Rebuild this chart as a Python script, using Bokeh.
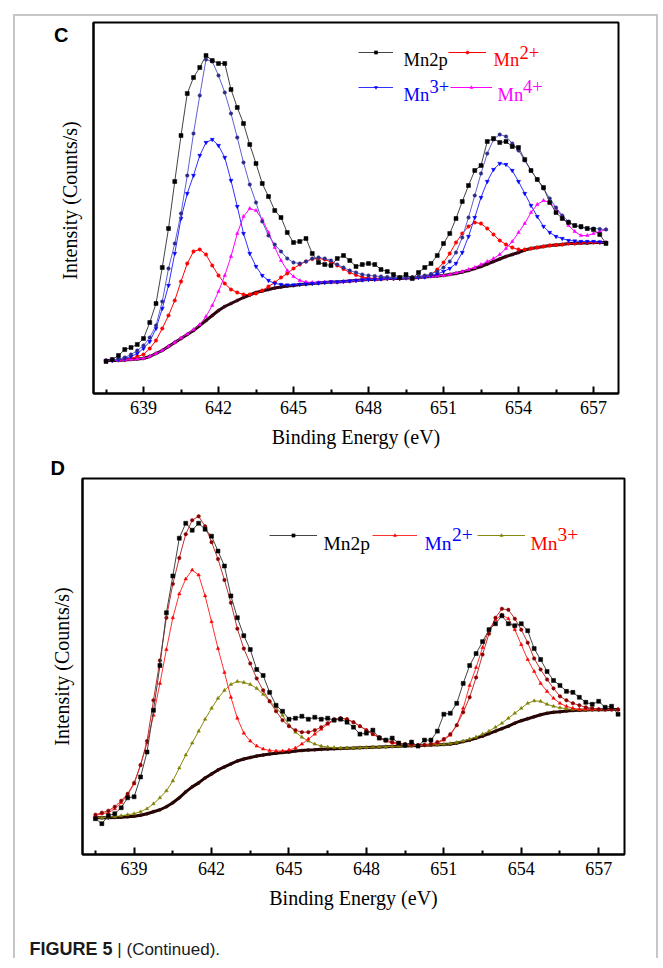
import numpy as np
from bokeh.plotting import figure
from bokeh.models import Label, Legend, LegendItem, FixedTicker, Range1d, Div, Title
from bokeh.layouts import column, row
from bokeh.embed import file_html
from bokeh.resources import INLINE

# ---------------- data ----------------
energy_c = np.round(np.arange(637.5, 657.5001, 0.25), 2)   # panel C grid (eV)
energy_d = np.round(np.arange(637.5, 657.7501, 0.25), 2)   # panel D grid (eV)

x_ticks = [639, 642, 645, 648, 651, 654, 657]
x_minor = [637.5, 640.5, 643.5, 646.5, 649.5, 652.5, 655.5]

# Panel C
c_mn2p = [32, 34, 38, 44, 46, 49, 55, 71, 90, 126,
          165, 212, 258, 300, 316, 326, 338, 333, 330, 330,
          304, 286, 270, 249, 230, 210, 197, 183, 176, 161,
          151, 152, 155, 140, 131, 129, 128, 135, 138, 133,
          127, 129, 130, 129, 124, 122, 119, 116, 119, 115,
          121, 126, 130, 138, 150, 160, 175, 192, 208, 223,
          228, 252, 255, 251, 252, 247, 246, 234, 223, 214,
          206, 191, 181, 175, 171, 168, 167, 165, 164, 159, 150]
c_env = [33, 33.5, 34.5, 36, 39, 43, 48, 56, 68, 92,
         125, 150, 180, 218, 260, 298, 334, 332, 318, 301,
         280, 256, 231, 209, 191, 172, 158, 149, 142, 135,
         131, 130, 132, 135, 136, 135, 133, 129, 126, 123,
         121, 119, 118, 117.5, 117, 116.5, 116, 116, 116, 116.5,
         117, 118, 119.5, 122, 126, 132, 141, 156, 176, 198,
         220, 240, 254, 259, 257, 250, 243, 233, 223, 214,
         205, 195, 186, 178, 172, 168, 166, 165, 165, 164.5, 164]
c_mn3 = [33, 33, 34, 35, 37, 40, 45, 52, 65, 85,
         108, 140, 175, 200, 218, 238, 251, 254, 248, 236,
         213, 187, 160, 140, 127, 118, 113, 110, 109, 108.5,
         108.5, 109, 109.5, 110, 110.5, 111, 111.5, 111.5, 112, 112.5,
         113, 113.5, 114, 114, 114.5, 115, 115, 115, 115.5, 115.5,
         116, 116.5, 118, 119.5, 122, 125, 130, 141, 157, 176,
         196, 212, 224, 230, 229, 223, 212, 200, 188, 177,
         167, 161, 157, 155, 153, 152.5, 152, 152, 152, 151.5, 151]
c_mn2 = [33, 33, 33.5, 34, 35, 37, 39, 45, 53, 65,
         78, 93, 112, 130, 142, 144, 139, 128, 118, 110,
         104, 101, 99, 99, 100, 103, 107, 111, 116, 120,
         125, 129, 132, 134.5, 135, 134, 131.5, 128, 124.5, 121,
         118.5, 116.5, 115.5, 115, 115, 115, 115, 115.5, 115.5, 116,
         116.5, 117.5, 119, 124, 131, 140, 151, 160, 167, 171,
         170, 165, 159, 153, 149, 146, 144, 144, 145, 146,
         147, 148, 148.5, 149, 150, 150, 150.5, 151, 151, 151, 151]
c_mn4 = [33, 33, 33, 33.5, 34, 34.5, 35, 37, 40, 43,
         47, 51, 55.5, 59.5, 64, 69, 77, 88, 102, 118,
         137, 160, 177, 185, 183, 174, 161, 146, 133, 123,
         117, 113, 111.5, 111, 111, 111.5, 111.5, 111.5, 112, 112.5,
         113, 113.5, 114, 114, 114.5, 115, 115, 115, 115.5, 115.5,
         116, 116.5, 117, 117.5, 118, 119, 120.5, 122, 124, 126,
         129, 132, 135, 139, 145, 152, 161, 170, 181, 189,
         193, 191, 185, 177, 168, 162, 158, 158, 160, 162, 164]
c_bkg = [33, 33, 33, 33.5, 34, 34.5, 35, 37, 40, 43,
         47, 51, 55, 59, 63, 68, 73, 78, 83, 87,
         90, 93, 96, 98.5, 101, 102.5, 104, 105.5, 106.5, 107.5,
         108, 109, 109.5, 110, 110.5, 111, 111.5, 111.5, 112, 112.5,
         113, 113.5, 114, 114, 114.5, 115, 115, 115, 115.5, 115.5,
         116, 116.5, 117, 117.5, 118, 119, 120, 121.5, 123, 125,
         127, 129.5, 132, 134.5, 137, 139, 141, 143.5, 145, 146,
         147, 148, 148.5, 149, 150, 150, 150.5, 150.5, 151, 151, 151]

# Panel D
d_mn2p = [36, 31, 39, 41, 47, 57, 58, 78, 103, 145,
          190, 243, 280, 318, 333, 326, 333, 327, 320, 305,
          290, 260, 238, 220, 206, 186, 180, 163, 150, 144,
          136, 137, 139, 136, 138, 136, 137, 135, 136, 133,
          128, 121, 122, 125, 117, 115, 117, 112, 110, 113,
          109, 115, 115, 124, 141, 142, 152, 172, 190, 202,
          214, 226, 232, 240, 232, 230, 232, 225, 207, 196,
          184, 175, 170, 164, 163, 158, 153, 151, 154, 148, 149, 141]
d_env = [40, 42, 44, 48, 54, 61, 72, 90, 114, 155,
         195, 238, 272, 298, 322, 336, 340, 330, 314, 297,
         276, 253, 227, 207, 192, 177, 165, 154, 144, 135,
         129, 125, 123, 123, 125, 128, 132, 136, 137, 136,
         133, 129, 125, 121, 118, 115, 113, 112, 111, 110.5,
         110, 110, 111, 113, 116, 121, 130, 143, 158, 178,
         201, 222, 238, 247, 246, 237, 226, 213, 197, 186,
         176, 167, 159, 155, 152, 150, 148, 147, 146, 146, 145.7, 145.7]
d_mn2 = [39, 41, 42, 46, 52, 60, 71, 90, 112, 140,
         172, 206, 238, 262, 277, 286, 281, 260, 234, 207,
         183, 158, 137, 122, 114, 109, 106, 104.5, 104, 104,
         105, 107, 111, 116, 121, 126, 131, 135, 137, 136,
         133, 129, 125, 121, 117, 114, 112, 111, 110.5, 110,
         110, 110, 111, 112, 115, 120, 130, 147, 170, 188,
         208, 226, 236, 241, 237, 226, 211, 196, 184, 172,
         164, 157, 152, 149, 147, 146, 146, 145.7, 145.7, 145.7, 145.7, 145.7]
d_mn3 = [37, 37, 37.5, 38, 39, 40, 41, 43, 46, 51,
         57, 64, 74, 87, 100, 112, 124, 136, 147, 157,
         165, 171, 174, 173, 171, 167, 161, 154, 148, 140,
         130, 123, 118, 114, 111, 109, 108, 107.5, 107, 107,
         107.2, 107.4, 107.6, 107.9, 108.1, 108.4, 108.6, 108.9, 109.1, 109.4,
         109.6, 109.9, 110.1, 110.4, 110.8, 111.5, 112.5, 114, 116, 118,
         121, 124, 128, 132, 137, 142, 147, 152, 154.5, 154,
         151, 149, 147.5, 146.5, 146, 145.5, 145.5, 145.5, 145.5, 145.6, 145.7, 145.7]
d_bkg = [37, 37, 37, 37.2, 37.5, 38, 38.5, 39.5, 41, 43,
         45, 48, 52, 57, 63, 68, 72, 77, 81, 85,
         88, 91, 94, 96, 97.5, 99, 100, 101, 101.8, 102.5,
         103, 104, 104.5, 105, 105.3, 105.7, 106, 106.3, 106.5, 106.8,
         107, 107.3, 107.5, 107.8, 108, 108.3, 108.5, 108.8, 109, 109.3,
         109.5, 109.8, 110, 110.3, 110.5, 111, 112, 113.5, 115, 117,
         119, 121.5, 124, 126.5, 129, 132, 134.5, 136.5, 138.5, 140.5,
         142, 143, 143.5, 144.2, 144.7, 145, 145.2, 145.4, 145.5, 145.6, 145.7, 145.7]

SERIF = "'Liberation Serif', 'Times New Roman', Times, serif"
SANS = "'Liberation Sans', Arial, Helvetica, sans-serif"
NB = "\u00a0"


def make_fig(width, height, bl, br, bt, bb, ymax, ylabel):
    p = figure(width=width, height=height, output_backend="svg", toolbar_location=None,
               x_range=Range1d(637.0, 658.0), y_range=Range1d(0, ymax))
    if "frame_align" in p.properties():
        p.frame_align = False
    p.min_border_left = bl
    p.min_border_right = br
    p.min_border_top = bt
    p.min_border_bottom = bb
    p.grid.visible = False
    p.outline_line_color = "black"
    p.outline_line_width = 2
    p.outline_line_alpha = 1
    p.background_fill_color = "white"
    p.border_fill_color = "white"
    xa = p.xaxis[0]
    xa.ticker = FixedTicker(ticks=x_ticks, minor_ticks=x_minor)
    xa.axis_line_width = 2
    xa.major_tick_in = 7
    xa.major_tick_out = 0
    xa.minor_tick_in = 4
    xa.minor_tick_out = 0
    xa.major_tick_line_width = 2
    xa.minor_tick_line_width = 2
    xa.major_label_text_font = SERIF
    xa.major_label_text_font_size = "18px"
    xa.major_label_text_color = "black"
    xa.major_label_standoff = 7
    xa.axis_label = "Binding Energy (eV)"
    xa.axis_label_text_font = SERIF
    xa.axis_label_text_font_size = "20px"
    xa.axis_label_text_font_style = "normal"
    xa.axis_label_text_color = "black"
    xa.axis_label_standoff = 9
    ya = p.yaxis[0]
    ya.ticker = FixedTicker(ticks=[])
    ya.axis_line_width = 2
    ya.major_tick_line_color = None
    ya.minor_tick_line_color = None
    ya.major_tick_in = 0
    ya.major_tick_out = 0
    ya.axis_label = ylabel
    ya.axis_label_text_font = SERIF
    ya.axis_label_text_font_size = "20px"
    ya.axis_label_text_font_style = "normal"
    ya.axis_label_text_color = "black"
    ya.axis_label_standoff = 9
    return p


def series(p, x, y, line_color, marker, mcolor, size, lw=1.0):
    r1 = p.line(x, y, line_color=line_color, line_width=lw)
    r2 = p.scatter(x, y, marker=marker, size=size, fill_color=mcolor, line_color=mcolor,
                   line_width=0.5)
    return [r1, r2]


def key(p, rends, x, yline, w):
    lg = Legend(items=[LegendItem(label=" ", renderers=rends)], location=(x, yline - 4),
                glyph_width=w, glyph_height=8, padding=0, margin=0, spacing=0,
                label_standoff=0, label_text_font_size="1px", label_width=1, label_height=1,
                border_line_alpha=0, background_fill_alpha=0)
    p.add_layout(lg)


def text(p, s, x, y, color, size):
    p.add_layout(Label(x=x, y=y, x_units="screen", y_units="screen", text=s,
                       text_color=color, text_font=SERIF, text_font_size=size,
                       text_align="left", text_baseline="alphabetic"))


# ---------------- panel C ----------------
pc = make_fig(641, 438, 78, 38, 6, 61, 371, NB * 3 + "Intensity (Counts/s)")
# panel letter "C" as the single (bold) tick label of the left axis
yc = pc.yaxis[0]
yc.ticker = FixedTicker(ticks=[359])
yc.major_label_overrides = {359: "C"}
yc.major_label_text_font = SANS
yc.major_label_text_font_style = "bold"
yc.major_label_text_font_size = "20px"
yc.major_label_text_color = "black"
yc.major_label_standoff = 25
yc.axis_label_standoff = -30

series(pc, energy_c, c_bkg, "#2a0010", "circle", "#3a0a14", 3, lw=3)
r_c2 = series(pc, energy_c, c_mn2, "#ff0000", "circle", "#ff0000", 3.5)
r_c4 = series(pc, energy_c, c_mn4, "#ff00ff", "triangle", "#ff00ff", 3.5)
r_c3 = series(pc, energy_c, c_mn3, "#3030ff", "inverted_triangle", "#0000ff", 4)
series(pc, energy_c, c_env, "#6060d0", "circle", "#2c2c88", 3.5)
r_c0 = series(pc, energy_c, c_mn2p, "#444444", "square", "black", 4)

key(pc, r_c0, 265, 340.7, 35)
key(pc, r_c2, 355, 340.7, 38)
key(pc, r_c3, 265, 305.7, 35)
key(pc, r_c4, 357, 305.7, 42)
text(pc, "Mn2p", 310, 334, "black", "18.5px")
text(pc, "Mn", 400, 334, "#ff0000", "18.5px")
text(pc, "2+", 426, 341.5, "#ff0000", "18.5px")
text(pc, "Mn", 310, 299, "#0000ff", "18.5px")
text(pc, "3+", 336, 307.5, "#0000ff", "18.5px")
text(pc, "Mn", 404, 299, "#ff00ff", "18.5px")
text(pc, "4+", 429.5, 307.5, "#ff00ff", "18.5px")

# ---------------- panel D ----------------
pd_ = make_fig(641, 482, 67, 32, 22, 82, 378, "Intensity (Counts/s)")
pd_.yaxis[0].axis_label_standoff = 10
pd_.title = Title(text="D", align="left", offset=-32, standoff=0, text_font=SANS,
                  text_font_size="20px", text_font_style="bold", text_color="black")

series(pd_, energy_d, d_bkg, "#200000", "circle", "#300808", 3, lw=3)
r_d3 = series(pd_, energy_d, d_mn3, "#8a8a10", "triangle", "#808000", 3.5)
r_d2 = series(pd_, energy_d, d_mn2, "#ff3030", "triangle", "#ff0000", 3.5)
series(pd_, energy_d, d_env, "#c03030", "circle", "#8b0000", 3.5)
r_d0 = series(pd_, energy_d, d_mn2p, "#444444", "square", "black", 4)

key(pd_, r_d0, 187, 319, 48)
key(pd_, r_d2, 290, 319, 45)
key(pd_, r_d3, 395, 319, 48)
text(pd_, "Mn2p", 241, 311, "black", "19.5px")
text(pd_, "Mn", 342, 311, "#0000ff", "19.5px")
text(pd_, "2+", 369.5, 320, "#0000ff", "19.5px")
text(pd_, "Mn", 448, 311, "#ff0000", "19.5px")
text(pd_, "3+", 475, 320, "#ff0000", "19.5px")

caption = Div(
    text=("<div style=\"font-family:'Liberation Sans',Arial,sans-serif;font-size:17px;"
          "line-height:17px;padding:5px 0 0 14.6px;color:#1a1a1a;white-space:nowrap\">"
          "<b style=\"font-size:18px\">FIGURE 5</b> | (Continued).</div>"),
    width=641, height=22, margin=0)

layout = column(row(pc), row(pd_), caption, margin=(14, 0, 0, 13),
                styles={"border-left": "2px solid #c6c6c6",
                        "border-top": "2px solid #c6c6c6",
                        "border-right": "2px solid #c6c6c6"})

open("out.html", "w").write(file_html(layout, INLINE))
